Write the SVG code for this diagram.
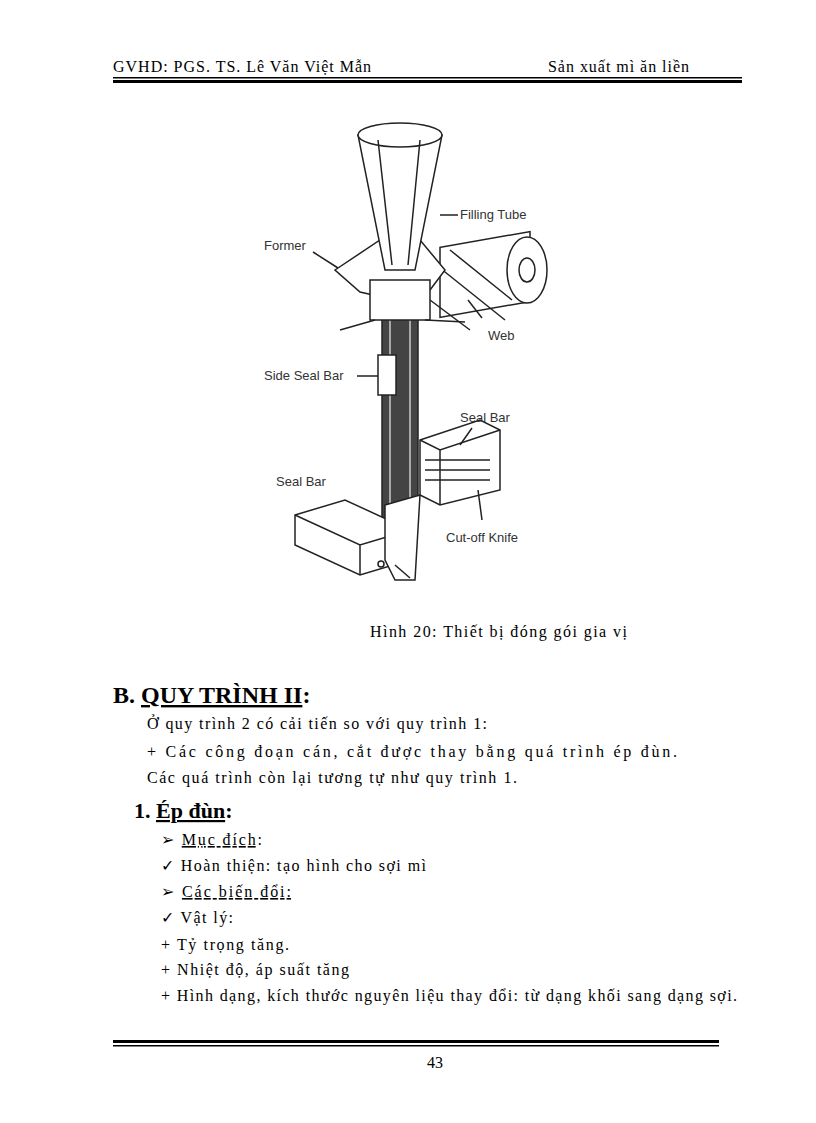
<svg xmlns="http://www.w3.org/2000/svg" width="816" height="1123" viewBox="0 0 816 1123">
<style>
.s{font-family:"Liberation Serif",serif;fill:#000}
.l{font-family:"Liberation Sans",sans-serif;font-size:13px;fill:#333}
.d{fill:none;stroke:#222;stroke-width:1.5}
.f{fill:#fff;stroke:#222;stroke-width:1.5}
</style>
<rect width="816" height="1123" fill="#fff"/>
<g id="header">
<text class="s" x="113" y="72" font-size="16" textLength="258" lengthAdjust="spacing">GVHD: PGS. TS. Lê Văn Việt Mẫn</text>
<text class="s" x="548" y="72" font-size="16" textLength="141" lengthAdjust="spacing">Sản xuất mì ăn liền</text>
<rect x="113" y="77" width="629" height="1.5" fill="#000"/>
<rect x="113" y="80" width="629" height="3" fill="#000"/>
</g>
<g id="drawing">
<rect x="440" y="245" width="90" height="70" class="f" transform="skewY(-10) translate(0,80)"/>
<ellipse cx="527" cy="270" rx="20" ry="33" class="f"/>
<ellipse cx="527" cy="270" rx="8" ry="12" class="f"/>
<path class="d" d="M440 268 L505 320 M450 250 L512 300 M430 300 L470 330"/>
<path d="M382 520 L382 300 L418 300 L418 520 Z" fill="#444" stroke="#222" stroke-width="1.5"/>
<path d="M390 305 L390 520 M410 305 L410 520" stroke="#ccc" stroke-width="1.5"/>
<rect x="378" y="355" width="18" height="40" class="f"/>
<path class="f" d="M335 270 L380 240 L420 240 L445 270 L430 290 L395 300 L360 292 Z"/>
<path class="f" d="M370 280 L430 280 L430 320 L370 320 Z"/>
<path class="d" d="M375 320 L340 330 M425 320 L465 322"/>
<path class="f" d="M358 135 L442 135 L415 270 L385 270 Z"/>
<ellipse cx="400" cy="135" rx="42" ry="12" class="f"/>
<path class="d" d="M378 140 L392 265 M420 140 L408 265"/>
<path class="f" d="M420 440 L480 420 L500 430 L500 490 L440 505 L420 495 Z"/>
<path class="d" d="M420 440 L440 450 L500 430 M440 450 L440 505"/>
<path class="d" d="M425 460 L490 460 M425 470 L490 470 M425 480 L490 480"/>
<path class="f" d="M295 515 L345 500 L410 530 L410 560 L360 575 L295 545 Z"/>
<path class="d" d="M295 515 L360 545 L410 530 M360 545 L360 575"/>
<circle cx="381" cy="564" r="3" class="f"/>
<path class="f" d="M385 505 L420 495 L415 580 L395 580 L385 560 Z"/>
<path class="d" d="M395 565 L410 578"/>
<path class="d" d="M440 215 L458 215 M313 252 L338 268 M482 318 L468 300 M357 376 L378 376 M472 428 L460 445 M482 520 L478 490"/>
<text class="l" x="460" y="219">Filling Tube</text>
<text class="l" x="264" y="250">Former</text>
<text class="l" x="488" y="340">Web</text>
<text class="l" x="264" y="380">Side Seal Bar</text>
<text class="l" x="460" y="422">Seal Bar</text>
<text class="l" x="276" y="486">Seal Bar</text>
<text class="l" x="446" y="542">Cut-off Knife</text>
</g>
<g id="text">
<text class="s" x="370" y="637" font-size="16" textLength="257" lengthAdjust="spacing">Hình 20: Thiết bị đóng gói gia vị</text>
<text class="s" x="113" y="703" font-size="24" font-weight="bold">B. <tspan text-decoration="underline">QUY TRÌNH II</tspan>:</text>
<text class="s" x="147" y="729" font-size="16" textLength="340" lengthAdjust="spacing">Ở quy trình 2 có cải tiến so với quy trình 1:</text>
<text class="s" x="147" y="757" font-size="16" textLength="530" lengthAdjust="spacing">+ Các công đoạn cán, cắt được thay bằng quá trình ép đùn.</text>
<text class="s" x="147" y="783" font-size="16" textLength="370" lengthAdjust="spacing">Các quá trình còn lại tương tự như quy trình 1.</text>
<text class="s" x="134" y="818" font-size="22" font-weight="bold">1. <tspan text-decoration="underline">Ép đùn</tspan>:</text>
<text class="s" x="161" y="845" font-size="16" textLength="101" lengthAdjust="spacing">➢ <tspan text-decoration="underline">Mục đích</tspan>:</text>
<text class="s" x="161" y="871" font-size="16" textLength="265" lengthAdjust="spacing">✓ Hoàn thiện: tạo hình cho sợi mì</text>
<text class="s" x="161" y="897" font-size="16" textLength="130" lengthAdjust="spacing">➢ <tspan text-decoration="underline">Các biến đổi:</tspan></text>
<text class="s" x="161" y="923" font-size="16" textLength="72" lengthAdjust="spacing">✓ Vật lý:</text>
<text class="s" x="161" y="950" font-size="16" textLength="128" lengthAdjust="spacing">+ Tỷ trọng tăng.</text>
<text class="s" x="161" y="975" font-size="16" textLength="188" lengthAdjust="spacing">+ Nhiệt độ, áp suất tăng</text>
<text class="s" x="161" y="1001" font-size="16" textLength="576" lengthAdjust="spacing">+ Hình dạng, kích thước nguyên liệu thay đổi: từ dạng khối sang dạng sợi.</text>
</g>
<g id="footer">
<rect x="113" y="1040" width="606" height="3" fill="#000"/>
<rect x="113" y="1045" width="606" height="1.5" fill="#000"/>
<text class="s" x="427" y="1068" font-size="16">43</text>
</g>
</svg>
